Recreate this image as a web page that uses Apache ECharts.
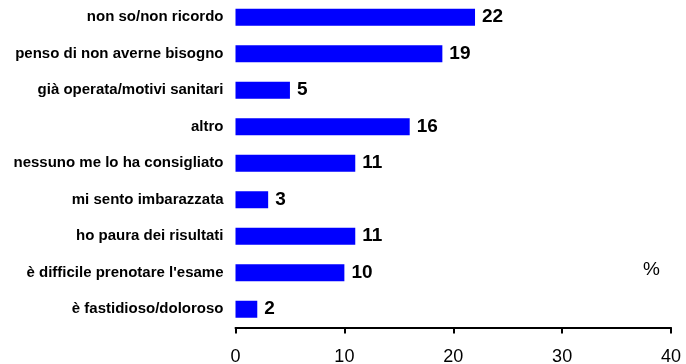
<!DOCTYPE html>
<html>
<head>
<meta charset="utf-8">
<script src="https://cdn.jsdelivr.net/npm/echarts@6/dist/echarts.min.js"></script>
<style>
  html, body { margin: 0; padding: 0; background: #fff; }
  #chart { width: 686px; height: 364px; }
</style>
</head>
<body>
<div id="chart"></div>
<script>
// Reasons given (top to bottom)
const categories = [
  "non so/non ricordo",
  "penso di non averne bisogno",
  "già operata/motivi sanitari",
  "altro",
  "nessuno me lo ha consigliato",
  "mi sento imbarazzata",
  "ho paura dei risultati",
  "è difficile prenotare l'esame",
  "è fastidioso/doloroso"
];
// Percentage for each reason
const values = [22, 19, 5, 16, 11, 3, 11, 10, 2];
// Value axis ticks
const xTicks = [0, 10, 20, 30, 40];

const chart = echarts.init(document.getElementById('chart'), null, { renderer: 'canvas' });

chart.setOption({
  animation: false,
  backgroundColor: '#ffffff',
  textStyle: { fontFamily: 'Liberation Sans, Arial, sans-serif' },
  grid: { left: 235.5, right: 15, top: -1, bottom: 36.5, outerBoundsMode: 'none', containLabel: false },
  xAxis: {
    type: 'value',
    min: xTicks[0],
    max: xTicks[xTicks.length - 1],
    interval: xTicks[1] - xTicks[0],
    axisLine: { show: true, lineStyle: { color: '#000', width: 2 } },
    axisTick: { show: true, length: 6, lineStyle: { color: '#000', width: 2 } },
    axisLabel: { color: '#000', fontSize: 18, margin: 21, fontFamily: 'Liberation Sans, Arial, sans-serif' },
    splitLine: { show: false }
  },
  yAxis: {
    type: 'category',
    data: categories,
    inverse: true,
    axisLine: { show: false },
    axisTick: { show: false },
    axisLabel: { color: '#000', fontSize: 15, fontWeight: 'bold', margin: 12, fontFamily: 'Liberation Sans, Arial, sans-serif' }
  },
  series: [{
    type: 'bar',
    data: values,
    barWidth: 17,
    itemStyle: { color: '#0000ff' },
    label: {
      show: true,
      position: 'right',
      distance: 7,
      color: '#000',
      fontSize: 19,
      fontWeight: 'bold',
      fontFamily: 'Liberation Sans, Arial, sans-serif'
    }
  }],
  graphic: [{
    type: 'text',
    left: 643,
    top: 260,
    style: { text: '%', fontSize: 19, fill: '#000', fontFamily: 'Liberation Sans, Arial, sans-serif' }
  }]
});
</script>
</body>
</html>
